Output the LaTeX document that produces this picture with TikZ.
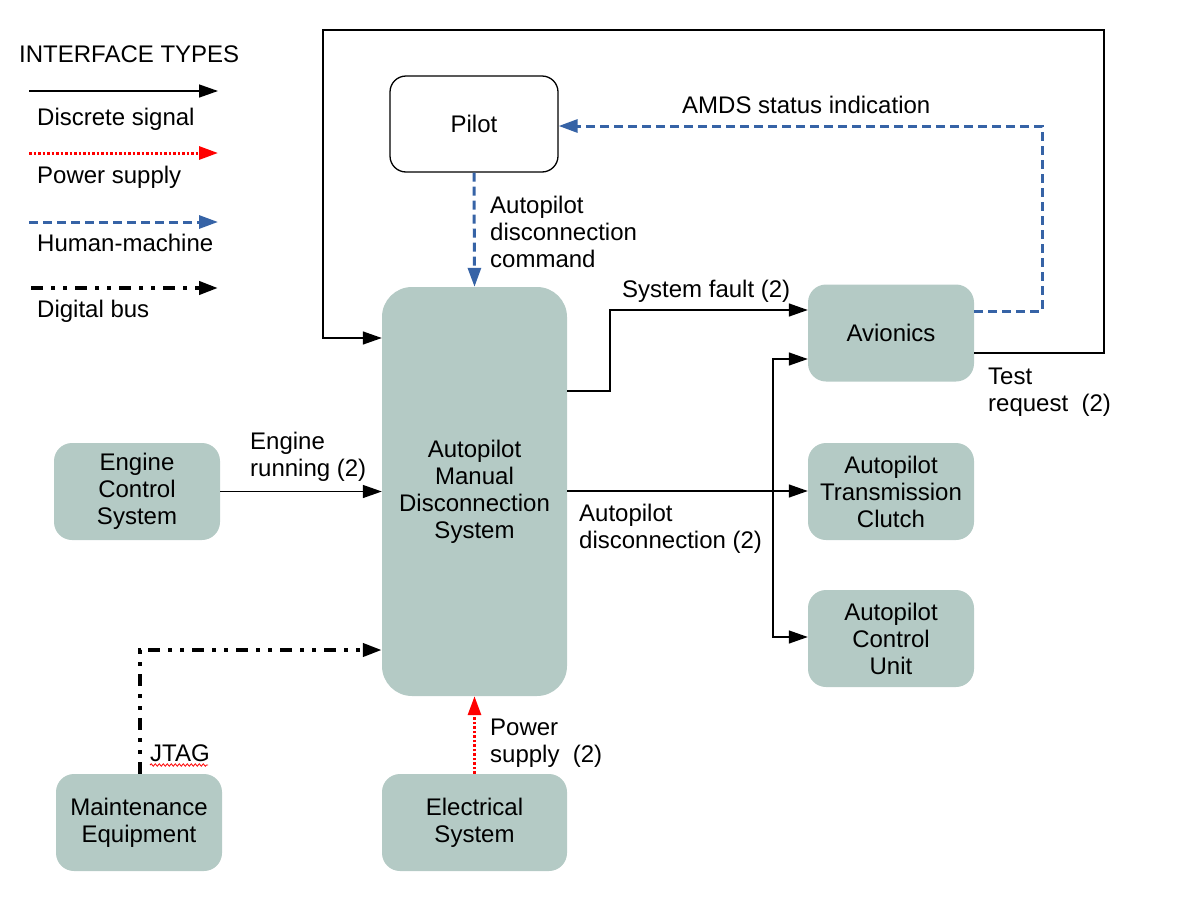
\documentclass[tikz,border=0pt]{standalone}
\usepackage{fontspec}
\setmainfont{Liberation Sans}
\usetikzlibrary{arrows.meta,decorations.pathmorphing}
\definecolor{boxfill}{RGB}{180,202,197}
\definecolor{hmblue}{RGB}{54,99,166}
\begin{document}
\begin{tikzpicture}[x=1pt,y=-1pt,
  font=\fontsize{24}{27}\selectfont,
  tip/.tip={Triangle[length=19pt,width=13pt]},
  box/.style={fill=boxfill, rounded corners=18pt, align=center, inner sep=0pt,
    minimum width=166pt, minimum height=97pt},
  pilotbox/.style={draw=black, line width=1.3pt, fill=white, rounded corners=16pt,
    align=center, inner sep=0pt, minimum width=168pt, minimum height=96pt},
  lbl/.style={anchor=west, align=left, inner sep=0pt},
  sig/.style={line width=1.4pt, -tip},
  pwr/.style={draw=red, line width=3pt, dash pattern=on 2.5pt off 2pt, -tip},
  hm/.style={draw=hmblue, line width=3pt, dash pattern=on 9pt off 5pt, -tip},
  bus/.style={line width=4pt, dash pattern=on 12pt off 8pt on 4pt off 8pt on 4pt off 8pt, -tip}
]
\useasboundingbox (0,0) rectangle (1187,916);

% Legend
\node[lbl] (lgtitle) at (19,54) {INTERFACE TYPES};
\coordinate (la1) at (29,91);  \coordinate (la2) at (218,91);
\coordinate (lb1) at (29,153); \coordinate (lb2) at (218,153);
\coordinate (lc1) at (29,222); \coordinate (lc2) at (218,222);
\coordinate (ld1) at (31,288); \coordinate (ld2) at (218,288);
\draw[sig] (la1) -- (la2);
\draw[pwr] (lb1) -- (lb2);
\draw[hm] (lc1) -- (lc2);
\draw[bus] (ld1) -- (ld2);
\node[lbl] (lga) at (37,119) {Discrete signal};
\node[lbl] (lgb) at (37,177) {Power supply};
\node[lbl] (lgc) at (37,243) {Human-machine};
\node[lbl] (lgd) at (37,311) {Digital bus};

% Nodes
\node[pilotbox] (pilot) at (474,124) {Pilot};
\node[box, rounded corners=30pt, minimum width=185pt, minimum height=409pt] (amds) at (474.5,491.5)
  {Autopilot\\Manual\\Disconnection\\System};
\node[box] (avi) at (891,333) {Avionics};
\node[box] (clutch) at (891,491.5) {Autopilot\\Transmission\\Clutch};
\node[box] (acu) at (891,638.5) {Autopilot\\Control\\Unit};
\node[box] (ecs) at (137,491.5) {Engine\\Control\\System};
\node[box] (maint) at (139,822.5) {Maintenance\\Equipment};
\node[box, minimum width=185pt] (elec) at (474.5,822.5) {Electrical\\System};

% Connectors
\draw[hm] (pilot.south) -- (amds.north);
\coordinate (hm1) at (1042,311); \coordinate (hm2) at (1042,126);
\draw[hm] (avi.east |- hm1) -- (hm1) -- (hm2) -- (pilot.east |- hm2);

\coordinate (t1) at (1104,353); \coordinate (t2) at (1104,30);
\coordinate (t3) at (323,30);   \coordinate (t4) at (323,338);
\draw[sig] (avi.east |- t1) -- (t1) -- (t2) -- (t3) -- (t4) -- (amds.west |- t4);

\coordinate (f1) at (610,391); \coordinate (f2) at (610,310);
\draw[sig] (amds.east |- f1) -- (f1) -- (f2) -- (avi.west |- f2);

\coordinate (d1) at (600,491);
\draw[sig] (amds.east |- d1) -- (clutch.west |- d1);
\coordinate (b1) at (773,359); \coordinate (b2) at (773,637);
\draw[line width=1.4pt, tip-tip] (avi.west |- b1) -- (b1) -- (b2) -- (acu.west |- b2);

\draw[sig] (ecs.east) -- (amds.west |- ecs.east);

\coordinate (m1) at (140,650);
\draw[bus] (maint.north -| m1) -- (m1) -- (amds.west |- m1);

\draw[pwr] (elec.north) -- (amds.south);

% Labels
\node[lbl] (l1) at (682,105) {AMDS status indication};
\node[lbl] (l2) at (490,232) {Autopilot\\disconnection\\command};
\node[lbl] (l3) at (622,291) {System fault (2)};
\node[lbl] (l4) at (988,392) {Test\\request~~(2)};
\node[lbl] (l5) at (250,457) {Engine\\running (2)};
\node[lbl] (l6) at (579,529) {Autopilot\\disconnection (2)};
\node[lbl] (l7) at (490,743) {Power\\supply~~(2)};
\node[lbl] (l8) at (150,753) {JTAG};
\draw[red, line width=0.8pt, decorate, decoration={snake, amplitude=1.2pt, segment length=4pt}]
  (150,765) -- (208,765);
\end{tikzpicture}
\end{document}
